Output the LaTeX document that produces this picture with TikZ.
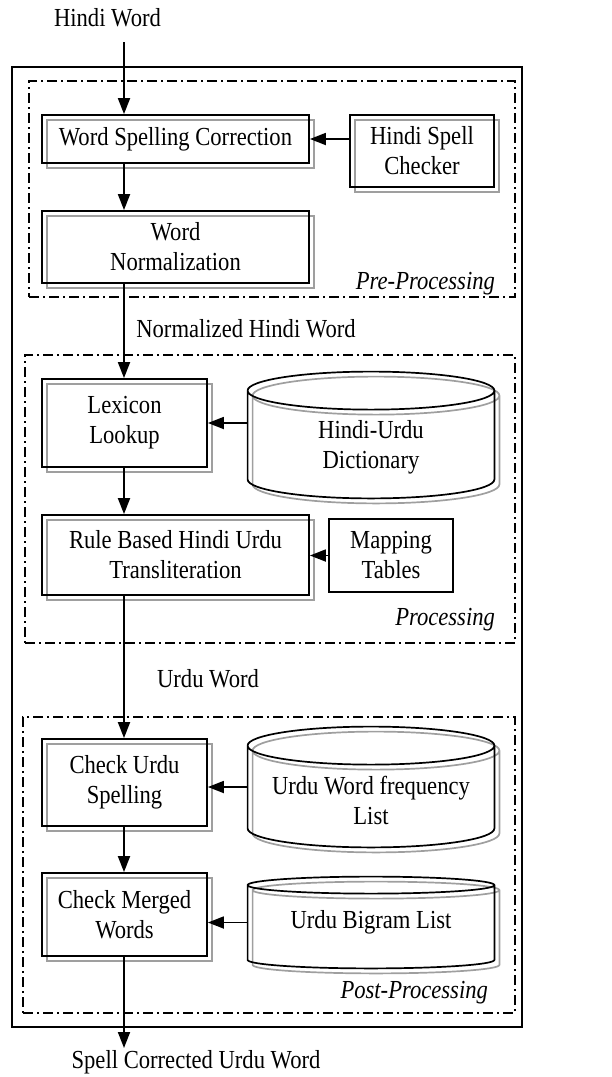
\documentclass[tikz,border=0pt]{standalone}
\usepackage{fontspec}
\setmainfont[FakeStretch=0.87]{Liberation Serif}
\usepackage{tikz}
\usetikzlibrary{arrows.meta,calc}

% cylinder outline round an empty node: #1 node, #2 ellipse y radius
\newcommand{\dbdraw}[2]{%
	\foreach \dbcol/\dboff in {gray!75/2.5pt, black/0pt}{
		\draw[\dbcol, line width=0.85pt] let \p1=($(#1.north west)+(\dboff,-\dboff)$),
			\p2=($(#1.south east)+(\dboff,-\dboff)$) in
			(\x1,\y1-#2) arc[start angle=180, end angle=540, x radius={(\x2-\x1)/2}, y radius=#2]
			-- (\x1,\y2+#2) arc[start angle=180, end angle=360, x radius={(\x2-\x1)/2}, y radius=#2]
			-- (\x2,\y1-#2);
	}}

\begin{document}
\begin{tikzpicture}[x=0.5pt, y=-0.5pt,
	every node/.style={font=\fontsize{13pt}{15pt}\selectfont},
	box/.style={draw, line width=0.9pt, align=center, inner sep=2pt,
		preaction={draw=gray!75, line width=0.8pt, transform canvas={shift={(2.5pt,-2.5pt)}}}},
	plainbox/.style={draw, line width=0.9pt, align=center, inner sep=2pt},
	db/.style={minimum width=123pt},
	group/.style={draw, line width=0.8pt, dash pattern=on 5pt off 2pt on 1pt off 2pt},
	tag/.style={font=\fontsize{13pt}{15pt}\selectfont\itshape, anchor=base east},
	flow/.style={line width=0.9pt, -{Triangle[length=8pt,width=6pt]}}]
	\useasboundingbox (0,0) rectangle (611,1077);

	% frame and stages
	\node[draw, line width=0.9pt, minimum width=255pt, minimum height=480pt] (frame) at (267,547) {};
	\node[group, minimum width=243pt, minimum height=108pt] (pre) at (272,189) {};
	\node[group, minimum width=245pt, minimum height=144pt] (proc) at (270,499) {};
	\node[group, minimum width=246pt, minimum height=148pt] (post) at (269,865) {};
	\node[tag] (pretag) at (502,289) {Pre-Processing};
	\node[tag] (proctag) at (502,625) {Processing};
	\node[tag] (posttag) at (495,998) {Post-Processing};

	% pre-processing
	\node[box, minimum width=133.5pt, minimum height=24pt] (wsc) at (175.5,139) {Word Spelling Correction};
	\node[box, minimum width=72pt, minimum height=36pt] (hsc) at (422,151) {Hindi Spell\\Checker};
	\node[box, minimum width=133.5pt, minimum height=36pt] (wn) at (175.5,247) {Word\\Normalization};

	% processing
	\node[box, minimum width=82.5pt, minimum height=44pt] (ll) at (124.5,423) {Lexicon\\Lookup};
	\node[db, minimum height=63pt] (dict) at (371,435) {};
	\dbdraw{dict}{9.5pt}
	\node[align=center] (dicttext) at ([yshift=-6pt]dict.center) {Hindi-Urdu\\Dictionary};
	\node[box, minimum width=133.5pt, minimum height=40pt] (rb) at (175.5,555) {Rule Based Hindi Urdu\\Transliteration};
	\node[plainbox, minimum width=62pt, minimum height=36.5pt] (mt) at (391,555.5) {Mapping\\Tables};

	% post-processing
	\node[box, minimum width=82.5pt, minimum height=43.5pt] (cus) at (124.5,782.5) {Check Urdu\\Spelling};
	\node[db, minimum height=60pt] (uwf) at (371,787) {};
	\dbdraw{uwf}{9.5pt}
	\node[align=center] (uwftext) at ([yshift=-6.5pt]uwf.center) {Urdu Word frequency\\List};
	\node[box, minimum width=82.5pt, minimum height=41.5pt] (cmw) at (124.5,914.5) {Check Merged\\Words};
	\node[db, minimum height=45.5pt] (ubl) at (371,922.5) {};
	\dbdraw{ubl}{4.25pt}
	\node (ubltext) at (ubl.center) {Urdu Bigram List};

	% words passed along
	\coordinate (src) at (124,42);
	\coordinate (sink) at (124,1048);
	\node[anchor=base] (hindi) at (107.5,26) {Hindi Word};
	\node[anchor=base] (norm) at (246,337) {Normalized Hindi Word};
	\node[anchor=base] (urdu) at (208,687) {Urdu Word};
	\node[anchor=base] (result) at (196,1068) {Spell Corrected Urdu Word};

	\draw[flow] (src) -- (wsc.north -| src);
	\draw[flow] (wsc.south -| src) -- (wn.north -| src);
	\draw[flow] (hsc.west |- wsc.east) -- (wsc.east);
	\draw[flow] (wn.south -| src) -- (ll.north -| src);
	\draw[flow] (dict.west |- ll.east) -- (ll.east);
	\draw[flow] (ll.south -| src) -- (rb.north -| src);
	\draw[flow] (mt.west) -- (mt.west -| rb.east);
	\draw[flow] (rb.south -| src) -- (cus.north -| src);
	\draw[flow] (uwf.west) -- (uwf.west -| cus.east);
	\draw[flow] (cus.south -| src) -- (cmw.north -| src);
	\draw[flow] (ubl.west) -- (ubl.west -| cmw.east);
	\draw[flow] (cmw.south -| src) -- (sink);
\end{tikzpicture}
\end{document}
